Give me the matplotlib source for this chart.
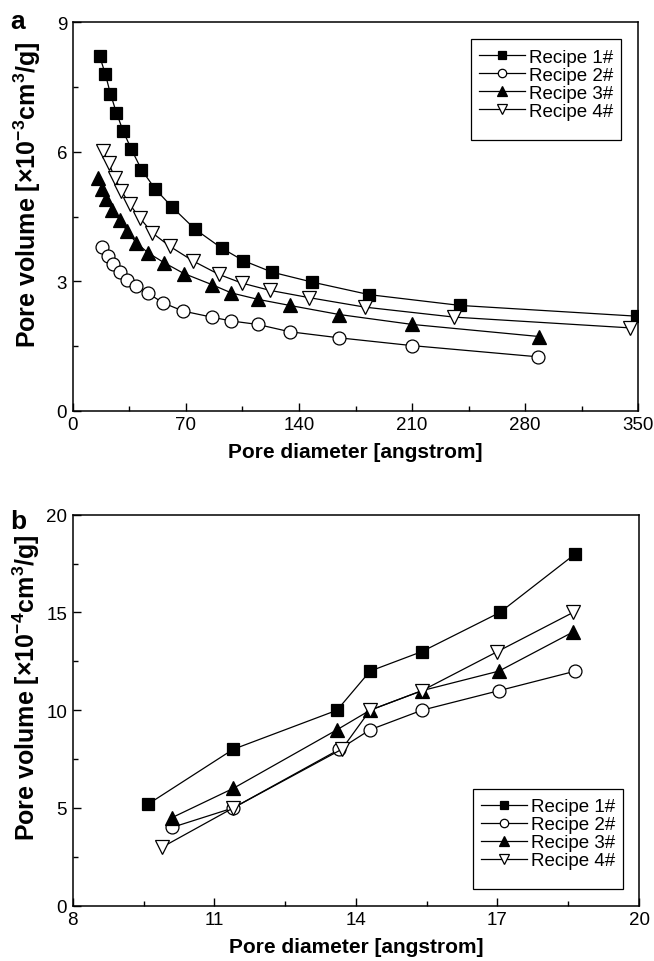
import numpy as np
import matplotlib
matplotlib.use('Agg')
import matplotlib.pyplot as plt
from matplotlib.patches import Rectangle

plt.rcParams['font.family'] = ['Liberation Sans', 'DejaVu Sans']
plt.rcParams['mathtext.fontset'] = 'custom'
plt.rcParams['mathtext.rm'] = 'Liberation Sans'
plt.rcParams['mathtext.bf'] = 'Liberation Sans:bold'
plt.rcParams['mathtext.default'] = 'bf'
plt.rcParams['xtick.direction'] = 'in'
plt.rcParams['ytick.direction'] = 'in'

labels = ['Recipe 1#', 'Recipe 2#', 'Recipe 3#', 'Recipe 4#']

# panel a: pore volume [x1e-3 cm3/g] vs pore diameter [angstrom]
a_x1 = [16.7, 20.2, 23.3, 27.0, 31.2, 36.3, 42.5, 50.8, 61.5, 75.6, 92.1,
        105.5, 123.5, 148.3, 183.5, 239.8, 349.5]
a_y1 = [8.21, 7.80, 7.35, 6.91, 6.48, 6.06, 5.59, 5.15, 4.72, 4.21, 3.77,
        3.48, 3.21, 2.98, 2.69, 2.44, 2.19]
a_x2 = [18.4, 21.9, 25.0, 29.1, 33.8, 39.4, 46.3, 55.9, 68.3, 85.9, 98.2,
        114.4, 134.4, 164.8, 209.8, 287.8]
a_y2 = [3.79, 3.58, 3.39, 3.21, 3.04, 2.89, 2.73, 2.50, 2.31, 2.17, 2.08,
        2.00, 1.83, 1.69, 1.51, 1.25]
a_x3 = [15.7, 18.1, 20.9, 24.3, 29.1, 33.6, 39.4, 46.6, 56.6, 68.8, 86.3,
        98.2, 114.8, 134.4, 164.9, 210.1, 288.6]
a_y3 = [5.40, 5.13, 4.90, 4.66, 4.43, 4.16, 3.89, 3.66, 3.43, 3.18, 2.92,
        2.73, 2.58, 2.44, 2.23, 2.00, 1.72]
a_x4 = [18.8, 22.3, 26.0, 30.1, 35.3, 41.5, 49.3, 60.1, 74.5, 90.4, 104.5,
        122.0, 146.4, 181.0, 236.0, 344.9]
a_y4 = [6.02, 5.74, 5.40, 5.10, 4.78, 4.47, 4.12, 3.81, 3.47, 3.16, 2.96,
        2.79, 2.62, 2.40, 2.17, 1.92]

# panel b: pore volume [x1e-4 cm3/g] vs pore diameter [angstrom]
b_x1 = [9.6, 11.4, 13.6, 14.3, 15.4, 17.05, 18.65]
b_y1 = [5.2, 8, 10, 12, 13, 15, 18]
b_x2 = [10.1, 11.4, 13.65, 14.3, 15.4, 17.03, 18.65]
b_y2 = [4, 5, 8, 9, 10, 11, 12]
b_x3 = [10.1, 11.4, 13.6, 14.3, 15.4, 17.03, 18.6]
b_y3 = [4.5, 6, 9, 10, 11, 12, 14]
b_x4 = [9.9, 11.4, 13.7, 14.3, 15.4, 17.0, 18.6]
b_y4 = [3, 5, 8, 10, 11, 13, 15]

styles = [dict(marker='s', mfc='k', ms=9.3),
          dict(marker='o', mfc='w', ms=9.3),
          dict(marker='^', mfc='k', ms=10.5),
          dict(marker='v', mfc='w', ms=10.5)]


def draw(ax, xs, ys, box):
    for x, y, st, lab in zip(xs, ys, styles, labels):
        ax.plot(x, y, color='k', lw=0.9, mec='k', mew=0.9, label=lab, **st)
    # legend frame is drawn separately (Origin-style, extra room at bottom)
    x0, y0, x1, y1 = box
    ax.add_patch(Rectangle((x0, y0), x1 - x0, y1 - y0, transform=ax.transAxes,
                           fill=False, ec='k', lw=0.9, zorder=5))
    ax.legend(loc='upper left', bbox_to_anchor=(x0 - 0.002, y1), fontsize=13.5,
              frameon=False, handlelength=2.45, handletextpad=0.2,
              labelspacing=0.05, borderpad=0.5, markerscale=0.65,
              borderaxespad=0)
    for sp in ax.spines.values():
        sp.set_linewidth(1.1)
    ax.tick_params(which='major', length=6, width=1, labelsize=13.5,
                   top=False, right=False, pad=4)
    ax.tick_params(which='minor', length=3.5, width=1, top=False, right=False)
    ax.set_xlabel('Pore diameter [angstrom]', fontsize=15, fontweight='bold',
                  labelpad=6)


fig = plt.figure(figsize=(6.54, 9.62), dpi=100)

ax1 = fig.add_axes([0.1112, 0.5720, 0.8648, 0.4037])
draw(ax1, [a_x1, a_x2, a_x3, a_x4], [a_y1, a_y2, a_y3, a_y4],
     (0.704, 0.697, 0.9694, 0.957))
ax1.set_xlim(0, 350)
ax1.set_ylim(0, 9)
ax1.set_xticks(np.arange(0, 351, 70))
ax1.set_xticks(np.arange(35, 350, 70), minor=True)
ax1.set_yticks([0, 3, 6, 9])
ax1.set_yticks([1.5, 4.5, 7.5], minor=True)
ax1.set_ylabel('Pore volume [×10$^{-3}$cm$^{3}$/g]',
               fontsize=18, fontweight='bold')
ax1.yaxis.set_label_coords(-0.052, 0.56)
fig.text(0.015, 0.977, 'a', fontsize=19, fontweight='bold', va='center')

ax2 = fig.add_axes([0.1112, 0.0575, 0.8660, 0.4064])
draw(ax2, [b_x1, b_x2, b_x3, b_x4], [b_y1, b_y2, b_y3, b_y4],
     (0.706, 0.043, 0.971, 0.299))
ax2.set_xlim(8, 20)
ax2.set_ylim(0, 20)
ax2.set_xticks([8, 11, 14, 17, 20])
ax2.set_xticks([9.5, 12.5, 15.5, 18.5], minor=True)
ax2.set_yticks([0, 5, 10, 15, 20])
ax2.set_yticks([2.5, 7.5, 12.5, 17.5], minor=True)
ax2.set_ylabel('Pore volume [×10$^{-4}$cm$^{3}$/g]',
               fontsize=18, fontweight='bold')
ax2.yaxis.set_label_coords(-0.055, 0.559)
fig.text(0.015, 0.457, 'b', fontsize=19, fontweight='bold', va='center')

fig.savefig('out.png', dpi=100)
